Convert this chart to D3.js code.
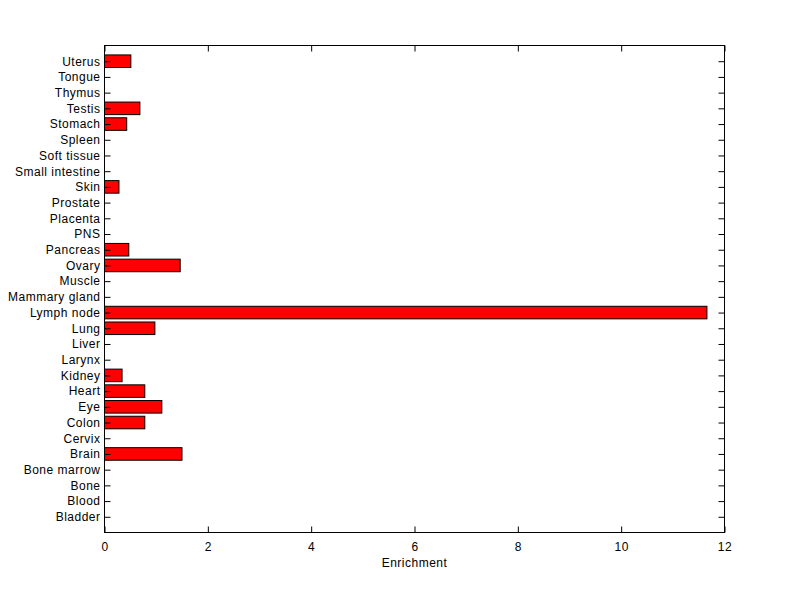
<!DOCTYPE html>
<html>
<head>
<meta charset="utf-8">
<script src="https://cdn.jsdelivr.net/npm/d3@7"></script>
<style>
html,body{margin:0;padding:0;background:#fff;}
svg{display:block;}
text{font-family:"Liberation Sans",Arial,Helvetica,sans-serif;font-size:12px;fill:#000;letter-spacing:0.5px;}
</style>
</head>
<body>
<script>
const categories = ["Bladder","Blood","Bone","Bone marrow","Brain","Cervix","Colon","Eye","Heart","Kidney","Larynx","Liver","Lung","Lymph node","Mammary gland","Muscle","Ovary","Pancreas","PNS","Placenta","Prostate","Skin","Small intestine","Soft tissue","Spleen","Stomach","Testis","Thymus","Tongue","Uterus"];
const values = [0,0,0,0,1.50,0,0.78,1.11,0.78,0.34,0,0,0.975,11.66,0,0,1.465,0.47,0,0,0,0.28,0,0,0,0.43,0.685,0,0,0.51];
const xTicks = [0,2,4,6,8,10,12];
const xLabel = "Enrichment";

const W = 800, H = 599;
const mLeft = 104.5, mRight = 724.5, mTop = 45.5, mBottom = 532.5;

const svg = d3.select("body").append("svg").attr("width", W).attr("height", H);

const x = d3.scaleLinear().domain([0, 12]).range([mLeft, mRight]);
const y = d3.scaleLinear().domain([0, categories.length + 1]).range([mBottom, mTop]);
const step = (mBottom - mTop) / (categories.length + 1);
const barH = step * 0.8;

// bars
svg.append("g").selectAll("rect")
  .data(categories.map((c, i) => ({c, v: values[i], i})).filter(d => d.v > 0))
  .join("rect")
  .attr("x", x(0))
  .attr("y", d => y(d.i + 1) - barH / 2)
  .attr("width", d => x(d.v) - x(0))
  .attr("height", barH)
  .attr("fill", "#ff0000")
  .attr("stroke", "#000")
  .attr("stroke-width", 1);

// axes
const tickLen = 6;
const gB = svg.append("g").attr("transform", `translate(0,${mBottom})`)
  .call(d3.axisBottom(x).tickValues(xTicks).tickFormat(d3.format("d")).tickSizeInner(-tickLen).tickSizeOuter(0).tickPadding(10));
const gT = svg.append("g").attr("transform", `translate(0,${mTop})`)
  .call(d3.axisTop(x).tickValues(xTicks).tickFormat("").tickSizeInner(-tickLen).tickSizeOuter(0));
const yPos = d3.range(1, categories.length + 1);
const gL = svg.append("g").attr("transform", `translate(${mLeft},0)`)
  .call(d3.axisLeft(y).tickValues(yPos).tickFormat(d => categories[d - 1]).tickSizeInner(-tickLen).tickSizeOuter(0).tickPadding(4));
const gR = svg.append("g").attr("transform", `translate(${mRight},0)`)
  .call(d3.axisRight(y).tickValues(yPos).tickFormat("").tickSizeInner(-tickLen).tickSizeOuter(0));

[gB, gT, gL, gR].forEach(g => {
  g.select(".domain").remove();
  g.selectAll("line").attr("stroke", "#000").attr("stroke-width", 1);
  g.selectAll("text").attr("font-family", "Liberation Sans, Arial, sans-serif").attr("font-size", 12).attr("fill", "#000");
});
gL.selectAll("text").attr("x", -4);

// frame
svg.append("rect").attr("x", mLeft).attr("y", mTop).attr("width", mRight - mLeft).attr("height", mBottom - mTop)
  .attr("fill", "none").attr("stroke", "#000").attr("stroke-width", 1);

svg.append("text").attr("x", (mLeft + mRight) / 2).attr("y", 567).attr("text-anchor", "middle").text(xLabel);
</script>
</body>
</html>
